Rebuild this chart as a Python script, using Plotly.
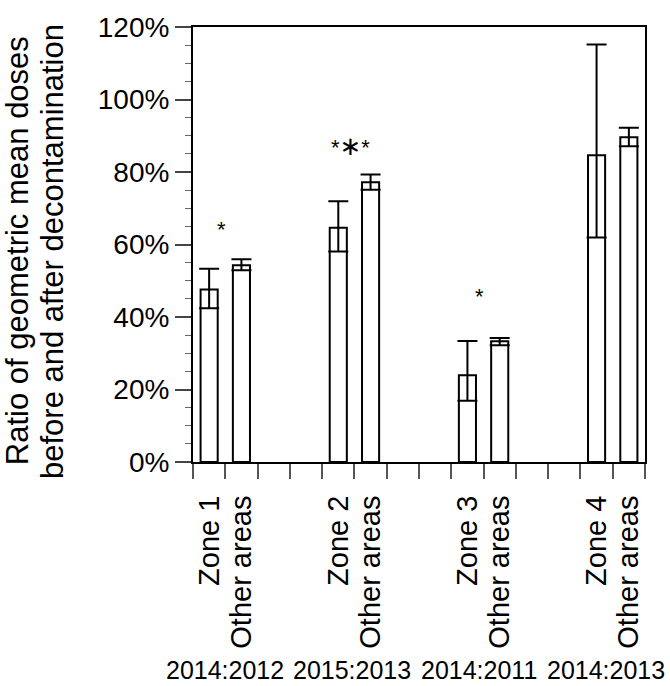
import plotly.graph_objects as go

# datos
periods = ["2014:2012", "2015:2013", "2014:2011", "2014:2013"]
zones = ["Zone 1", "Zone 2", "Zone 3", "Zone 4"]
ratio = [47.6, 54.3, 64.6, 77.2, 23.9, 33.3, 84.6, 89.6]
err_up = [5.7, 1.6, 7.3, 2.1, 9.5, 0.9, 30.6, 2.6]
err_down = [5.2, 1.4, 6.5, 2.1, 7.0, 1.1, 22.7, 2.5]
signif = ["*", "*<span style='font-family:DejaVu Sans; font-size:26px'>∗</span>*", "*", ""]
signif_y = [63, 86, 44.5, None]

FONT = "Liberation Sans, Arial, sans-serif"

# cada periodo ocupa 4 huecos: 2 barras + 2 vacios
xpos = []
labels = []
for i, z in enumerate(zones):
    for j, a in enumerate([z, "Other areas"]):
        xpos.append(4 * i + j + 0.5)
        labels.append(a)

fig = go.Figure()
fig.add_trace(go.Bar(
    x=xpos, y=ratio, width=0.53,
    marker=dict(color="white", line=dict(color="black", width=2)),
    error_y=dict(type="data", symmetric=False, array=err_up, arrayminus=err_down,
                 color="black", thickness=2, width=10),
    showlegend=False,
))

for i, s in enumerate(signif):
    if s:
        fig.add_annotation(x=4 * i + 0.87, y=signif_y[i], text=s, showarrow=False,
                           yshift=4, font=dict(size=22, color="black", family=FONT))

for i, p in enumerate(periods):
    fig.add_annotation(x=0.98 + 3.94 * i, y=-0.478, xref="x", yref="paper", text=p,
                       showarrow=False, xanchor="center", yanchor="middle",
                       font=dict(size=25, color="black", family=FONT))

# titulo del eje y en dos lineas
for xp, line in [(-0.389, "Ratio of geometric mean doses"),
                 (-0.312, "before and after decontamination")]:
    fig.add_annotation(x=xp, y=0.485, xref="paper", yref="paper", textangle=-90,
                       text=line, showarrow=False, xanchor="center", yanchor="middle",
                       font=dict(size=31, color="black", family=FONT))

fig.update_xaxes(
    range=[0, 14], tickvals=xpos, ticktext=labels, tickangle=-90, ticks="",
    ticklabelstandoff=20,
    minor=dict(tickmode="linear", tick0=0, dtick=1, ticks="outside", ticklen=15,
               tickcolor="#555", tickwidth=1.5),
    showline=True, linecolor="black", linewidth=2, mirror=True, showgrid=False,
    tickfont=dict(size=29, color="black", family=FONT),
)
fig.update_yaxes(
    range=[0, 120], dtick=20, ticksuffix="%", ticks="outside", ticklen=16,
    tickcolor="#444", tickwidth=1.5, ticklabeloverflow="allow",
    minor=dict(dtick=5, ticks="outside", ticklen=6, tickcolor="#666", tickwidth=1),
    showline=True, linecolor="black", linewidth=2, mirror=True, showgrid=False,
    zeroline=False, tickfont=dict(size=28, color="black", family=FONT),
)
fig.update_layout(
    width=670, height=686,
    margin=dict(l=193, r=25, t=12, b=224),
    plot_bgcolor="white", paper_bgcolor="white",
    font=dict(family=FONT, color="black"),
)

fig.write_html("out.html", config={"displayModeBar": False},
               post_script="document.body.style.margin='0px';")
